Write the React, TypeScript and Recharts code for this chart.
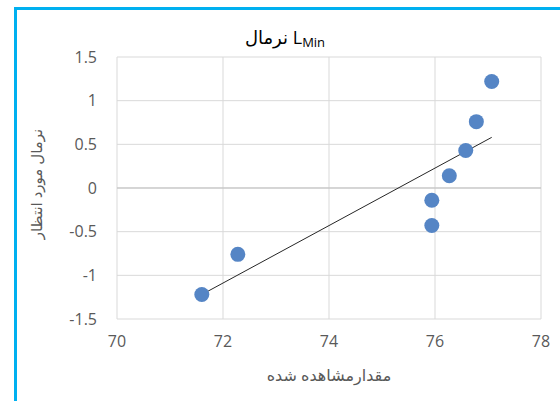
import React from "react";
import { ScatterChart, Scatter, XAxis, YAxis, CartesianGrid, ReferenceLine } from "recharts";

const observed = [71.6, 72.28, 75.94, 75.94, 76.27, 76.58, 76.78, 77.07];
const expectedNormal = [-1.22, -0.76, -0.43, -0.14, 0.14, 0.43, 0.76, 1.22];
const xTicks = [70, 72, 74, 76, 78];
const yTicks = [-1.5, -1, -0.5, 0, 0.5, 1, 1.5];
const trendX = [71.6, 77.07];
const trendY = [-1.22, 0.58];

const points = observed.map((x, i) => ({ x, y: expectedNormal[i] }));

const FONT = "'Open Sans', 'Noto Sans', 'DejaVu Sans', sans-serif";
const GREY = "#595959";

export default function App() {
  return (
    <div style={{ position: "fixed", left: 0, top: 0, width: 560, height: 401, background: "#fff", overflow: "hidden", fontFamily: FONT }}>
      <div style={{ position: "absolute", left: 14, top: 7, width: 560, height: 3, background: "#00B0F0" }} />
      <div style={{ position: "absolute", left: 14, top: 7, width: 3, height: 401, background: "#00B0F0" }} />
      <div style={{ position: "absolute", left: 0, top: 0 }}>
        <ScatterChart width={560} height={401} margin={{ top: 57, right: 19, left: 57, bottom: 52 }}>
          <CartesianGrid stroke="#D9D9D9" strokeWidth={1} horizontal vertical />
          <XAxis
            type="number"
            dataKey="x"
            domain={[70, 78]}
            ticks={xTicks}
            axisLine={false}
            tickLine={false}
            tickSize={0}
            tickMargin={17}
            height={30}
            tick={{ fill: GREY, fontSize: 16, fontFamily: FONT }}
            interval={0}
          />
          <YAxis
            type="number"
            dataKey="y"
            domain={[-1.5, 1.5]}
            ticks={yTicks}
            axisLine={false}
            tickLine={false}
            tickSize={0}
            tickMargin={20}
            width={60}
            tick={{ fill: GREY, fontSize: 16, fontFamily: FONT }}
            interval={0}
          />
          <ReferenceLine y={0} stroke="#BFBFBF" strokeWidth={1} />
          <ReferenceLine
            segment={[{ x: trendX[0], y: trendY[0] }, { x: trendX[1], y: trendY[1] }]}
            stroke="#262626"
            strokeWidth={1}
          />
          <Scatter
            data={points}
            fill="#5585C5"
            isAnimationActive={false}
            shape={(p: any) => <circle cx={p.cx} cy={p.cy} r={7.5} fill="#5585C5" />}
          />
        </ScatterChart>
      </div>
      <div style={{ position: "absolute", left: 185, top: 26, width: 200, textAlign: "center", fontSize: 18, color: "#000", direction: "ltr", lineHeight: "22px" }}>
        <span>نرمال</span> L<sub style={{ fontSize: 13, verticalAlign: "-3px" }}>Min</sub>
      </div>
      <div style={{ position: "absolute", left: 229, top: 365, width: 200, textAlign: "center", fontSize: 16, color: GREY, lineHeight: "20px" }}>
        مقدارمشاهده شده
      </div>
      <div style={{ position: "absolute", left: 36, top: 184, width: 0, height: 0 }}>
        <div style={{ position: "absolute", left: -100, top: -10, width: 200, textAlign: "center", fontSize: 15, color: GREY, lineHeight: "20px", transform: "rotate(-90deg)" }}>
          نرمال مورد انتظار
        </div>
      </div>
    </div>
  );
}
